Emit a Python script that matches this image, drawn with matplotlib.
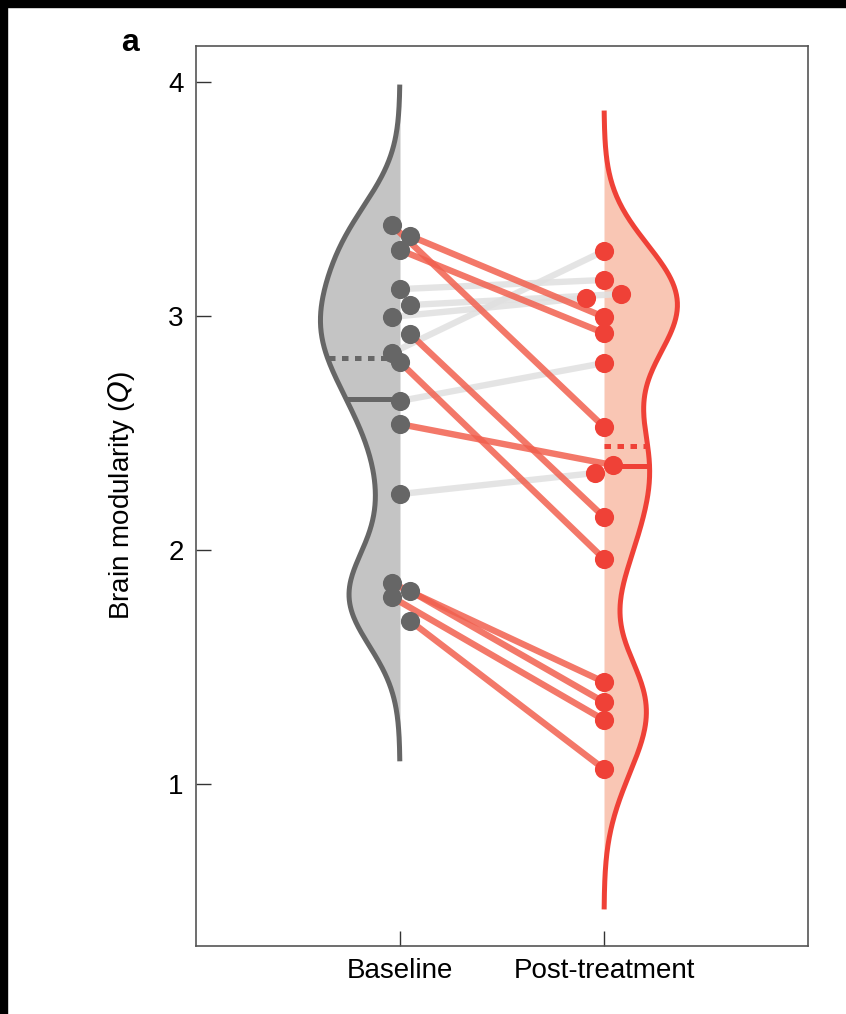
import numpy as np
import matplotlib
matplotlib.use("Agg")
import matplotlib.pyplot as plt
from matplotlib.patches import Rectangle

plt.rcParams['font.family'] = ['Liberation Sans', 'DejaVu Sans']

# brain modularity Q per subject, baseline -> post-treatment (paired)
baseline = [3.389, 3.342, 3.282, 3.115, 3.047, 2.996, 2.923, 2.842,
            2.803, 2.637, 2.538, 2.239, 1.859, 1.825, 1.799, 1.697]
post = [2.526, 2.996, 2.927, 3.154, 3.094, 3.077, 2.141, 3.278,
        1.962, 2.799, 2.363, 2.329, 1.436, 1.350, 1.274, 1.064]
# horizontal jitter of the dots (x units)
base_jit = [-0.04, 0.05, 0, 0, 0.05, -0.04, 0.05, -0.04,
            0, 0, 0, 0, -0.04, 0.05, -0.04, 0.05]
post_jit = [0, 0, 0, 0, 0.083, -0.088, 0, 0,
            0, 0, 0.044, -0.044, 0, 0, 0, 0]
groups = ['Baseline', 'Post-treatment']

GRAY = '#666666'
GRAY_FILL = '#c4c4c4'
RED = '#ef4137'
RED_FILL = '#f9c6b4'
RED_LINE = '#f1604f'
GRAY_LINE = '#e0e0e0'

bw = 0.2
maxw = 0.39


def kde(vals, grid):
    vals = np.asarray(vals)
    z = (grid[:, None] - vals[None, :]) / bw
    return np.exp(-0.5 * z ** 2).sum(1) / (len(vals) * bw * np.sqrt(2 * np.pi))


fig = plt.figure(figsize=(8.46, 10.14), dpi=100)
ax = fig.add_axes([196 / 846, 68 / 1014, 612 / 846, 900 / 1014])

grids, dens = [], []
for vals in (baseline, post):
    g = np.linspace(min(vals) - 3 * bw, max(vals) + 3 * bw, 400)
    grids.append(g)
    dens.append(kde(vals, g))
scale = maxw / max(d.max() for d in dens)

for i, (vals, col, fill, side) in enumerate([(baseline, GRAY, GRAY_FILL, -1),
                                            (post, RED, RED_FILL, 1)]):
    xc = i + 1
    g, d = grids[i], dens[i] * scale
    ax.fill_betweenx(g, xc, xc + side * d, color=fill, lw=0, zorder=1)
    ax.plot(xc + side * d, g, color=col, lw=3.6, zorder=2, solid_capstyle='butt')
    mean = np.mean(vals)
    med = np.median(vals)
    wm = np.interp(mean, g, d)
    wd = np.interp(med, g, d)
    ax.plot([xc, xc + side * wm], [mean, mean], color=col, lw=3.6, zorder=2,
            solid_capstyle='butt')
    ax.plot([xc, xc + side * wd], [med, med], color=col, lw=3.6, zorder=2,
            linestyle=(0, (1.3, 1.3)), dash_capstyle='butt')

# paired lines: grey for increase, red for decrease
for b, p, jb, jp in zip(baseline, post, base_jit, post_jit):
    up = p > b
    ax.plot([1 + jb, 2 + jp], [b, p], color=GRAY_LINE if up else RED_LINE,
            lw=4.6, alpha=0.85, zorder=3 if up else 4, solid_capstyle='butt')

ax.plot(1 + np.array(base_jit), baseline, 'o', color=GRAY, ms=13.8, mew=0, zorder=5)
ax.plot(2 + np.array(post_jit), post, 'o', color=RED, ms=13.8, mew=0, zorder=5)

ax.set_xlim(0, 3)
ax.set_ylim(1 - 162 / 234, 4 + 36 / 234)
ax.set_xticks([1, 2])
ax.set_xticklabels(groups)
ax.set_yticks([1, 2, 3, 4])
ax.tick_params(direction='in', length=11, width=1, labelsize=20, pad=9,
               color='#333333')
for s in ax.spines.values():
    s.set_color('#555555')
    s.set_linewidth(1.2)
ax.set_ylabel('Brain modularity ($\\it{Q}$)', fontsize=20, labelpad=22)

fig.text(121 / 846, 1 - 51 / 1014, 'a', fontsize=23, fontweight='bold')

# black strips at the top and left edge of the original scan
fig.patches.append(Rectangle((0, 1 - 7 / 1014), 1, 7 / 1014, color='black',
                             transform=fig.transFigure, zorder=10))
fig.patches.append(Rectangle((0, 0), 7 / 846, 1, color='black',
                             transform=fig.transFigure, zorder=10))

fig.savefig('out.png', dpi=100)
